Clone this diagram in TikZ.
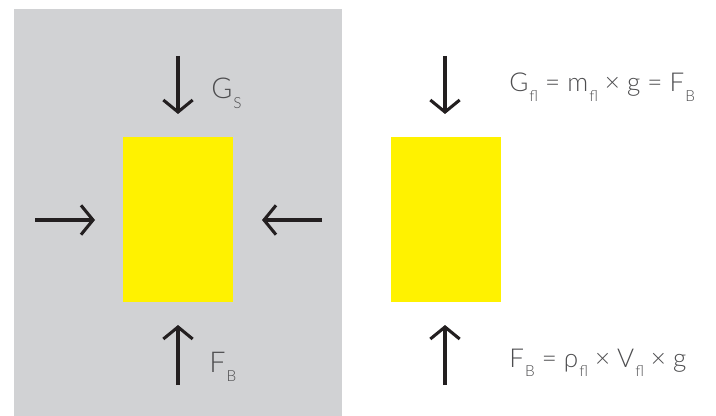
\documentclass[tikz,border=0pt]{standalone}
\usepackage{fontspec}
\setmainfont{Lato Light}
\usepackage{tikz}
\usetikzlibrary{arrows.meta, positioning}

\definecolor{bggray}{HTML}{D1D2D4}
\definecolor{boxyellow}{HTML}{FFF200}
\definecolor{inkdark}{HTML}{231F20}
\definecolor{textgray}{HTML}{4D4D4F}

\newcommand{\lowsub}[1]{\kern0.8pt\raisebox{-6.8pt}{\fontsize{11.5}{11.5}\selectfont #1}}

\tikzset{
    block/.style={rectangle, fill=boxyellow, minimum width=82.5pt, minimum height=123.75pt, inner sep=0pt},
    force/.style={draw=inkdark, line width=2.3pt, -{Straight Barb[length=9pt, width=22pt]}},
    lbl/.style={anchor=base west, inner sep=0pt, text=textgray, font=\fontsize{19.5}{19.5}\selectfont},
    biglbl/.style={lbl, font=\fontsize{21.5}{21.5}\selectfont}
}

\begin{document}
\begin{tikzpicture}[x=0.75pt, y=-0.75pt]
    \useasboundingbox (0,0) rectangle (716,416);
    \fill[bggray] (14,9) rectangle (342,416);

    \node (boxS) [block] at (178,219.5) {};
    \node (boxF) [block] at (445.5,219.5) {};

    % left box, in the solid
    \coordinate (gsTail) at (178,56);
    \coordinate (gsTip) at (178,114);
    \coordinate (fbTail) at (178,385);
    \coordinate (fbTip) at (178,325);
    \coordinate (leftTail) at (35,220);
    \coordinate (leftTip) at (95,220);
    \coordinate (rightTail) at (322,220);
    \coordinate (rightTip) at (262,220);
    \draw [force] (gsTail) -- (gsTip);
    \draw [force] (fbTail) -- (fbTip);
    \draw [force] (leftTail) -- (leftTip);
    \draw [force] (rightTail) -- (rightTip);
    \node (gsLabel) [biglbl] at (211,99) {G\lowsub{S}};
    \node (fbLabel) [biglbl] at (209,372) {F\lowsub{B}};

    % right box, in the fluid
    \coordinate (gflTail) at (445,56);
    \coordinate (gflTip) at (445,114);
    \coordinate (fblTail) at (445,385);
    \coordinate (fblTip) at (445,325);
    \draw [force] (gflTail) -- (gflTip);
    \draw [force] (fblTail) -- (fblTip);
    \node (gflLabel) [lbl] at (509,92) {G\lowsub{fl} = m\lowsub{fl} × g = F\lowsub{B}};
    \node (fblLabel) [lbl] at (509,367) {F\lowsub{B} = ρ\lowsub{fl} × V\lowsub{fl} × g};
\end{tikzpicture}
\end{document}
